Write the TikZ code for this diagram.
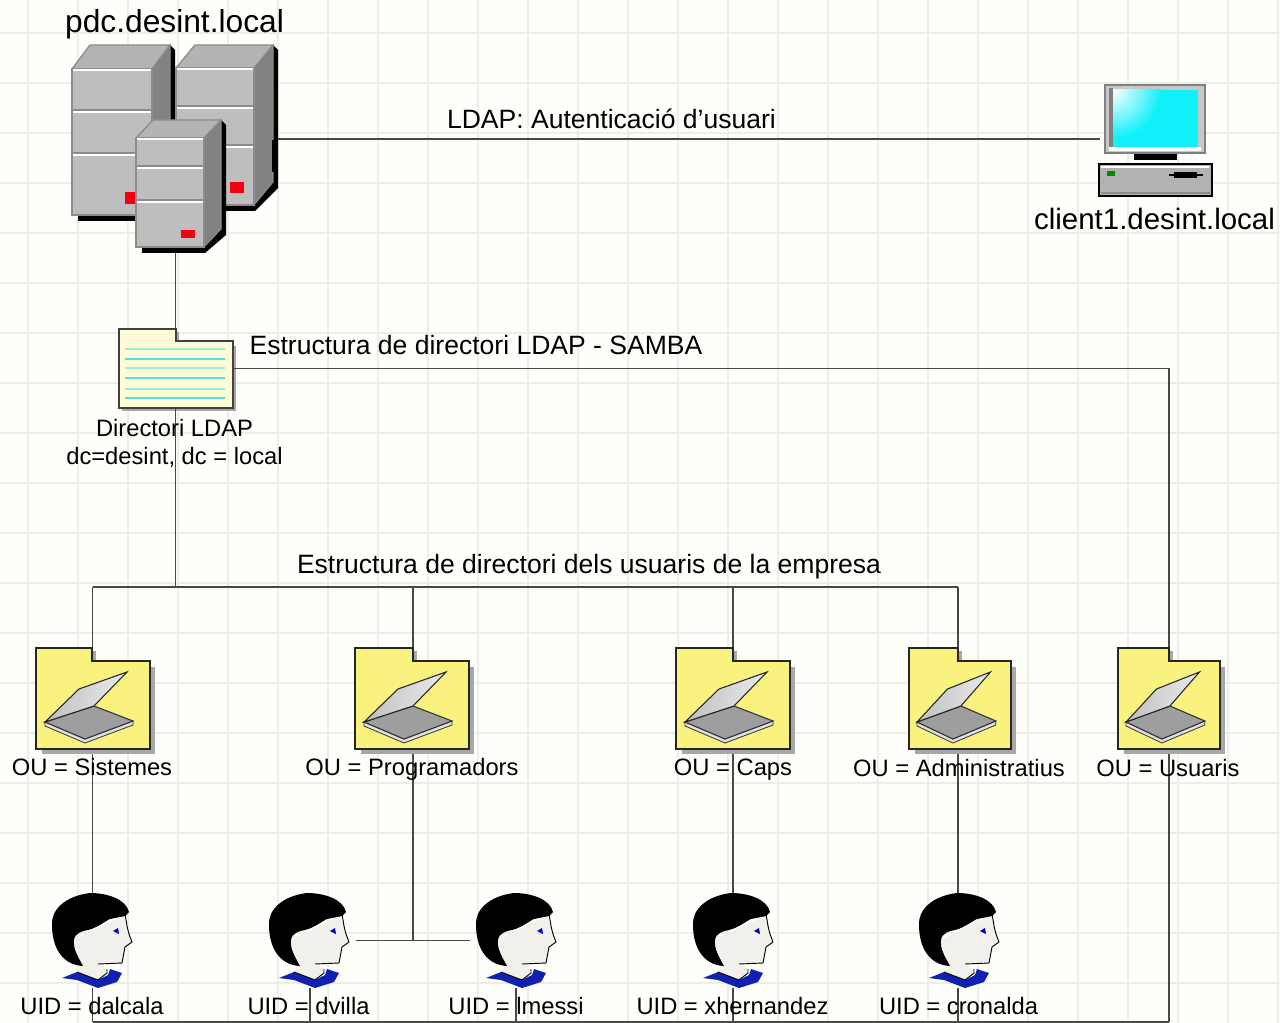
\documentclass[tikz,border=0pt]{standalone}
\usepackage{fontspec}
\setmainfont{Liberation Sans}
\definecolor{paper}{HTML}{FEFEFA}
\definecolor{gridc}{HTML}{EEEEE8}
\definecolor{wire}{HTML}{484848}
\definecolor{srvface}{HTML}{BEBEBE}
\definecolor{srvtop}{HTML}{B4B4B4}
\definecolor{srvside}{HTML}{828282}
\definecolor{srvedge}{HTML}{8C8C8C}
\definecolor{redled}{HTML}{F00010}
\definecolor{docfill}{HTML}{FFFBD6}
\definecolor{ouyellow}{HTML}{F9F27E}
\definecolor{shadowc}{HTML}{A8A8A8}
\definecolor{doclineA}{HTML}{9CEEDC}
\definecolor{doclineB}{HTML}{50E0E0}
\definecolor{blueshirt}{HTML}{1020B0}
\definecolor{screenc}{HTML}{10F0F8}
\definecolor{facec}{HTML}{F2F0EA}
\tikzset{
  wirestyle/.style={draw=wire,line width=1.15pt},
  slot/.style 2 args={inner sep=0pt,outer sep=0pt,minimum width=#1*0.75pt,minimum height=#2*0.75pt},
  big/.style={font=\fontsize{23.8}{26}\selectfont,inner sep=0pt},
  mid/.style={font=\fontsize{19.9}{24}\selectfont,inner sep=0pt},
  hostlabel/.style={font=\fontsize{22.1}{26}\selectfont,inner sep=0pt},
  small/.style={font=\fontsize{17.8}{22}\selectfont,inner sep=0pt},
}
\newcommand{\srvunit}[9]{%
  \def\xa{#1}\def\xb{#2}\def\ya{#3}\def\yb{#4}\def\dx{#5}\def\dy{#6}%
  \fill[black] (\xa+6,\yb) -- (\xa+6,\yb+6) -- (\xb+1,\yb+6) -- (\xb+\dx+5,\yb+6-\dy) -- (\xb+\dx+5,\ya-\dy+5) -- (\xb+\dx,\ya-\dy) -- cycle;
  \fill[srvtop,draw=srvedge,line width=1pt] (\xa,\ya) -- (\xa+\dx,\ya-\dy) -- (\xb+\dx,\ya-\dy) -- (\xb,\ya) -- cycle;
  \fill[srvside,draw=srvedge,line width=.8pt] (\xb,\ya) -- (\xb+\dx,\ya-\dy) -- (\xb+\dx,\yb-\dy) -- (\xb,\yb) -- cycle;
  \fill[srvface,draw=srvedge,line width=1.5pt] (\xa,\ya) rectangle (\xb,\yb);
  \draw[white,line width=1.3pt] (\xa+1,\ya+1) -- (\xb-1,\ya+1);
  \foreach \s in {#7,#8}{
    \draw[srvedge,line width=1.1pt] (\xa+1,\s-2) -- (\xb-1,\s-2);
    \draw[white,line width=1.1pt] (\xa+1,\s) -- (\xb-1,\s);
  }
  \fill[redled] #9;
}
\newcommand{\foldershape}[6]{(#1,#4) -- (#3,#4) -- (#3,#5) -- (#2,#5) -- (#2,#6) -- (#1,#6) -- cycle}
\newcommand{\oufolder}[4]{%
  \fill[shadowc] (#1+6,754) rectangle (#2+5,667);
  \fill[shadowc] (#3,651) rectangle (#3+4,664);
  \fill[ouyellow,draw=black!85,line width=.9pt] \foldershape{#1}{#2}{#3}{648}{661}{749};
  \begin{scope}[shift={(#1,648)},xscale=#4]
    \fill[black!12,draw=black!80,line width=.6pt] (9,74) -- (49,91) -- (97,73) -- (97,77) -- (49,95) -- (9,78) -- cycle;
    \fill[black!38,draw=black!80,line width=.8pt] (9,74) -- (58,58) -- (97,73) -- (49,91) -- cycle;
    \shade[left color=black!25,right color=black!8,draw=black!85,line width=.8pt] (9,74) -- (43,41) -- (91,24) -- (58,58) -- cycle;
  \end{scope}
}
\newcommand{\person}[1]{%
  \begin{scope}[shift={(#1,0)}]
    \fill[blueshirt] (-30,978) -- (-15,972) -- (6,980) -- (16,975) -- (18,969) -- (30,973) -- (25,982) -- (6,988) -- (-15,980) -- cycle;
    \fill[facec] (-19,940) -- (33,915) .. controls (35,925) and (35,930) .. (40,942) -- (33,947) -- (30,963) -- (6,964) -- (15,969) -- (15,973) -- (6,980) -- (-15,972) -- (-10,965) -- cycle;
    \draw[black,line width=.7pt] (33,914) .. controls (35,925) and (35,930) .. (40,942) -- (33,947) -- (30,963) -- (6,964);
    \draw[black,line width=.7pt] (15,969) -- (15,973) -- (6,980) -- (-15,972);
    \fill[black] (37,912) .. controls (34,899) and (15,893) .. (-2,893) .. controls (-27,896) and (-41,910) .. (-40,925) .. controls (-40,947) and (-30,965) .. (-9,966) .. controls (-15,955) and (-19,948) .. (-18,940) .. controls (-17,933) and (-10,931) .. (-4,930) .. controls (5,928) and (15,920) .. (18,919) -- (33,916) -- cycle;
    \fill[blue!80!black] (21,931) -- (26,928) -- (27,934) -- cycle;
  \end{scope}
}
\begin{document}
\begin{tikzpicture}[x=0.75pt,y=-0.75pt]
\useasboundingbox (0,0) rectangle (1280,1023);
\fill[paper] (0,0) rectangle (1280,1023);
\foreach \g in {28,78,...,1278} \draw[gridc,line width=.9pt] (\g,0) -- (\g,1023);
\foreach \g in {33,83,...,1023} \draw[gridc,line width=.9pt] (0,\g) -- (1280,\g);

\node[slot={206}{205}] (srv) at (175.5,147.5) {};
\node[slot={106}{112}] (client) at (1152.5,140) {};
\node[slot={115}{79}] (dir) at (175.5,368.5) {};
\node[slot={114}{101}] (ouS) at (92.5,698.5) {};
\node[slot={114}{101}] (ouP) at (413,698.5) {};
\node[slot={114}{101}] (ouC) at (733,698.5) {};
\node[slot={102}{101}] (ouA) at (958,698.5) {};
\node[slot={102}{101}] (ouU) at (1169,698.5) {};
\node[slot={92}{95}] (pA) at (92.5,940.5) {};
\node[slot={92}{95}] (pB) at (310,940.5) {};
\node[slot={92}{95}] (pC) at (516,940.5) {};
\node[slot={92}{95}] (pD) at (733,940.5) {};
\node[slot={92}{95}] (pE) at (958,940.5) {};
\coordinate (srvport) at (275,139);
\coordinate (bus) at (175.5,587);
\coordinate (busL) at (92.5,587);
\coordinate (busR) at (958,587);
\coordinate (botR) at (1169,1022);

% directory shadow sits under the wires that leave the folder
\fill[shadowc] (122,346) rectangle (236,411);
\fill[shadowc] (176,332) rectangle (179,345);

\draw[wirestyle] (srvport) -- (srvport -| client.west);
\draw[wirestyle] (srv.south) -- (dir.north);
\draw[wirestyle] (dir.south) -- (bus);
\draw[wirestyle] (busL) -- (busR);
\draw[wirestyle] (busL) -- (ouS.north);
\draw[wirestyle] (ouP.north |- bus) -- (ouP.north);
\draw[wirestyle] (ouC.north |- bus) -- (ouC.north);
\draw[wirestyle] (busR) -- (ouA.north);
\draw[wirestyle] (dir.east) -| (ouU.north);
\draw[wirestyle] (ouS.south) -- (pA.north);
\draw[wirestyle] (ouP.south) -- (ouP.south |- pB.east);
\draw[wirestyle] (pB.east) -- (pC.west);
\draw[wirestyle] (ouC.south) -- (pD.north);
\draw[wirestyle] (ouA.south) -- (pE.north);
\draw[wirestyle] (ouU.south) -- (botR);
\draw[wirestyle] (botR) -- (botR -| pA);
\foreach \p in {pA,pB,pC,pD,pE} \draw[wirestyle] (\p.south) -- (\p.south |- botR);

\srvunit{72}{152}{69}{215}{18}{24}{112}{155}{(125,192) rectangle (137,204)}
\srvunit{176}{254}{68}{205}{19}{23}{108}{147}{(230,182) rectangle (244,193)}
\srvunit{136}{204}{138}{247}{17}{18}{168}{202}{(181,230) rectangle (195,238)}
\fill[black] (272,140) rectangle (274,172);

% client
\fill[black] (1134,153) rectangle (1177,160);
\fill[black!22,draw=black!50,line width=1.1pt] (1105,85) rectangle (1205,153);
\fill[white] (1109,147) rectangle (1201,151);
\fill[black!50] (1109,88) rectangle (1113,147);
\fill[screenc] (1113,90) rectangle (1198,147);
\begin{scope}
  \clip (1113,90) rectangle (1198,147);
  \shade[inner color=white,outer color=screenc] (1113,90) circle [radius=48];
\end{scope}
\fill[black!30,draw=black,line width=1.2pt] (1099,164) rectangle (1212,196);
\fill[white] (1101,166) rectangle (1209,168);
\fill[black!45] (1101,192) rectangle (1210,194.5);
\fill[green!55!black] (1107,171) rectangle (1115,176);
\fill[black] (1174,172.5) rectangle (1197,178);
\draw[black,line width=1pt] (1169,175) -- (1203,175);

% directory
\fill[docfill,draw=black!75,line width=.9pt] \foldershape{119}{233}{176}{329}{341}{408};
\foreach \y/\c in {349/doclineA,359/doclineB,368/doclineA,378/doclineB,389/doclineA,398/doclineB}
  \draw[\c,line width=1pt] (125,\y) -- (225,\y);

\oufolder{36}{150}{92}{1}
\oufolder{355}{469}{413}{1}
\oufolder{676}{790}{733}{1}
\oufolder{909}{1011}{958}{.895}
\oufolder{1118}{1220}{1169}{.895}

\person{92}\person{309}\person{516}\person{733}\person{959}

\node[big] (tPdc) at (174.5,24) {pdc.desint.local};
\node[mid] (tAuth) at (611.5,119) {LDAP: Autenticació d’usuari};
\node[hostlabel] (tClient) at (1154.5,219) {client1.desint.local};
\node[mid] (tLdap) at (476,345) {Estructura de directori LDAP - SAMBA};
\node[small] (tDir1) at (174.5,428) {Directori LDAP};
\node[small] (tDir2) at (174.5,457) {dc=desint, dc = local};
\node[mid] (tEmp) at (589,567) {Estructura de directori dels usuaris de la empresa};
\node[small] (tS) at (92,767) {OU = Sistemes};
\node[small] (tP) at (412,769) {OU = Programadors};
\node[small] (tC) at (733,770) {OU = Caps};
\node[small] (tA) at (959,768) {OU = Administratius};
\node[small] (tU) at (1168,768) {OU = Usuaris};
\node[small] (uA) at (92,1006) {UID = dalcala};
\node[small] (uB) at (308.5,1006) {UID = dvilla};
\node[small] (uC) at (516,1006) {UID = lmessi};
\node[small] (uD) at (732.5,1006) {UID = xhernandez};
\node[small] (uE) at (958.5,1006) {UID = cronalda};
\end{tikzpicture}
\end{document}
